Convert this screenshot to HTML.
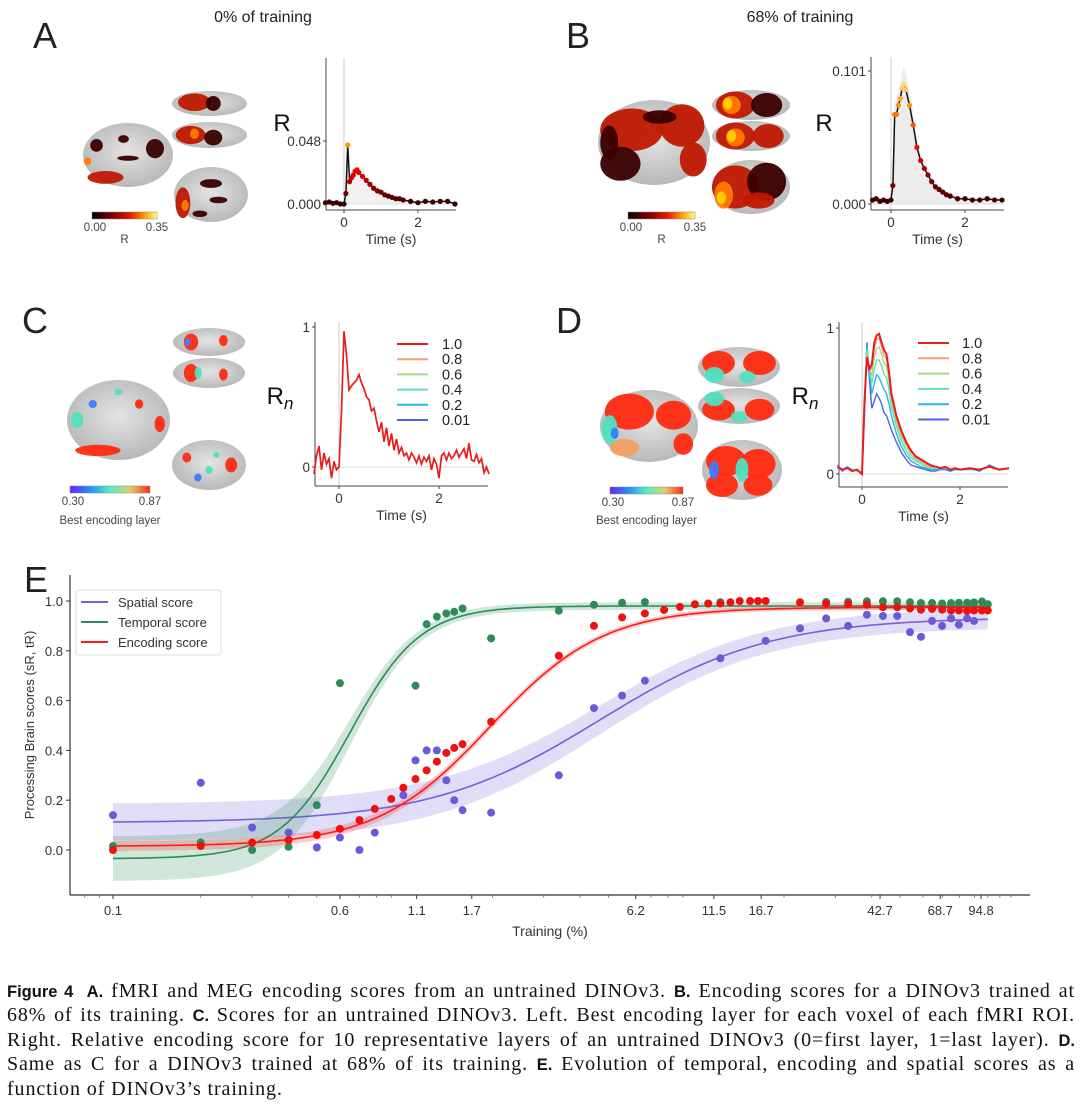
<!DOCTYPE html>
<html><head><meta charset="utf-8">
<style>
html,body{margin:0;padding:0;background:#fff;}
body{width:1080px;height:1106px;position:relative;overflow:hidden;font-family:"Liberation Sans",sans-serif;}
#fig{position:absolute;left:0;top:0;}
#caption{position:absolute;left:7px;top:980px;width:1068px;font-family:"Liberation Serif",serif;font-size:20px;letter-spacing:0.9px;line-height:23.4px;color:#111;}
#caption .ln{text-align:justify;text-align-last:justify;white-space:nowrap;}
#caption .last{text-align:left;text-align-last:left;}
#caption b{font-family:"Liberation Sans",sans-serif;font-size:16.5px;letter-spacing:0;}
</style></head>
<body>
<svg id="fig" width="1080" height="970" xmlns="http://www.w3.org/2000/svg"></svg>
<div id="caption">
<div class="ln"><b>Figure 4&nbsp;&nbsp;A.</b> fMRI and MEG encoding scores from an untrained DINOv3. <b>B.</b> Encoding scores for a DINOv3 trained at</div>
<div class="ln">68% of its training. <b>C.</b> Scores for an untrained DINOv3. Left. Best encoding layer for each voxel of each fMRI ROI.</div>
<div class="ln">Right. Relative encoding score for 10 representative layers of an untrained DINOv3 (0=first layer, 1=last layer). <b>D.</b></div>
<div class="ln">Same as C for a DINOv3 trained at 68% of its training. <b>E.</b> Evolution of temporal, encoding and spatial scores as a</div>
<div class="ln last">function of DINOv3’s training.</div>
</div>
<script>
// ---------- Panel A/B time series data ----------
const tAB = [-0.5,-0.4,-0.3,-0.2,-0.1,0,0.05,0.1,0.15,0.2,0.25,0.3,0.35,0.4,0.5,0.6,0.7,0.8,0.9,1.0,1.1,1.2,1.3,1.4,1.5,1.6,1.8,2.0,2.2,2.4,2.6,2.8,3.0];
const valsA = [0.001,0.0015,0.0005,0.001,0.0,0.0,0.008,0.045,0.017,0.02,0.022,0.025,0.026,0.024,0.021,0.018,0.015,0.012,0.010,0.009,0.007,0.006,0.005,0.004,0.004,0.003,0.002,0.001,0.002,0.0015,0.002,0.002,0.0];
const valsB = [0.003,0.004,0.002,0.003,0.002,0.003,0.014,0.068,0.068,0.075,0.08,0.088,0.091,0.087,0.075,0.06,0.043,0.033,0.027,0.022,0.017,0.013,0.011,0.009,0.007,0.006,0.004,0.004,0.003,0.003,0.004,0.003,0.003];
const ticksA = [0.000,0.048];
const ticksB = [0.000,0.101];
// ---------- Panel C data (step 0.05 s from -0.5) ----------
const valsC = [-0.05,0.08,0.15,-0.02,0.1,0.02,0.06,-0.08,0.04,-0.02,
0.0,0.4,0.97,0.8,0.55,0.58,0.6,0.62,0.66,0.6,0.56,0.5,0.48,0.4,0.42,0.33,0.25,0.32,0.18,0.28,0.15,0.24,0.12,0.2,0.1,0.14,0.08,0.1,0.05,0.1,0.07,0.03,0.08,0.02,0.07,0.04,0.08,-0.02,0.06,0.02,-0.08,0.08,0.1,0.05,0.1,0.06,0.08,0.12,0.07,0.1,0.13,0.06,0.17,0.05,0.04,0.09,0.03,0.06,-0.04,0.0,-0.05];
// ---------- Panel D data ----------
const tD = [-0.5,-0.4,-0.3,-0.2,-0.1,0,0.05,0.1,0.15,0.2,0.25,0.3,0.35,0.4,0.45,0.5,0.55,0.6,0.7,0.8,0.9,1.0,1.1,1.2,1.3,1.4,1.5,1.6,1.7,1.8,1.9,2.0,2.2,2.4,2.6,2.8,3.0];
const layerLabels = ["1.0","0.8","0.6","0.4","0.2","0.01"];
const d10 = [0.05,0.03,0.04,0.02,0.03,0.0,0.5,0.8,0.72,0.75,0.9,0.95,0.96,0.9,0.85,0.82,0.7,0.55,0.4,0.3,0.22,0.16,0.12,0.1,0.08,0.06,0.05,0.04,0.05,0.03,0.04,0.03,0.04,0.03,0.05,0.03,0.04];
const d08 = [0.05,0.03,0.04,0.02,0.03,0.0,0.49,0.81,0.72,0.72,0.86,0.92,0.93,0.87,0.81,0.79,0.68,0.53,0.38,0.28,0.21,0.15,0.11,0.09,0.07,0.05,0.05,0.04,0.05,0.03,0.04,0.03,0.04,0.03,0.05,0.03,0.04];
const d06 = [0.05,0.03,0.04,0.02,0.03,0.0,0.48,0.83,0.72,0.68,0.8,0.86,0.87,0.82,0.76,0.74,0.64,0.5,0.36,0.26,0.19,0.13,0.1,0.08,0.06,0.05,0.04,0.04,0.05,0.03,0.04,0.03,0.04,0.03,0.05,0.03,0.04];
const d04 = [0.05,0.03,0.04,0.03,0.02,0.0,0.47,0.85,0.72,0.62,0.72,0.78,0.78,0.74,0.68,0.66,0.58,0.46,0.33,0.23,0.16,0.11,0.09,0.07,0.05,0.04,0.04,0.04,0.04,0.03,0.04,0.03,0.04,0.03,0.05,0.03,0.04];
const d02 = [0.04,0.03,0.05,0.02,0.03,0.0,0.45,0.88,0.7,0.55,0.62,0.68,0.66,0.62,0.58,0.55,0.48,0.4,0.28,0.19,0.13,0.09,0.07,0.05,0.04,0.03,0.03,0.03,0.04,0.03,0.03,0.03,0.03,0.03,0.05,0.03,0.04];
const d001 = [0.06,0.02,0.05,0.03,0.02,0.01,0.4,0.9,0.65,0.45,0.5,0.55,0.52,0.48,0.42,0.4,0.35,0.3,0.22,0.15,0.1,0.06,0.05,0.04,0.03,0.02,0.02,0.03,0.03,0.02,0.03,0.03,0.04,0.02,0.06,0.03,0.04];
// ---------- Panel E data ----------
const trainingPct = [0.1,0.2,0.3,0.4,0.5,0.6,0.7,0.79,0.9,0.99,1.09,1.19,1.29,1.39,1.48,1.58,1.98,3.38,4.46,5.57,6.67,7.76,8.79,9.9,11.0,12.1,13.1,14.1,15.3,16.3,17.3,22.7,27.9,33.2,38.5,43.7,48.9,54.1,59.0,64.4,69.7,74.8,79.6,84.9,89.7,95.5,100];
const spatialScore = [0.14,0.27,0.09,0.07,0.01,0.05,0.0,0.07,null,0.22,0.36,0.40,0.40,0.28,0.20,0.16,0.15,0.30,0.57,0.62,0.68,null,null,null,null,0.77,null,null,null,null,0.84,0.89,0.93,0.90,0.945,0.94,0.94,0.875,0.856,0.92,0.90,0.93,0.905,0.93,0.92,null,null];
const temporalScore = [0.016,0.03,0.0,0.013,0.18,0.67,null,null,null,null,0.66,0.907,0.937,0.95,0.957,0.97,0.85,0.961,0.985,0.993,0.996,null,null,null,null,0.995,null,null,null,null,null,null,0.996,0.997,0.999,0.999,0.999,0.995,0.992,0.992,0.99,0.992,0.993,0.993,0.994,0.998,0.987];
const encodingScore = [0.0,0.016,0.03,0.04,0.06,0.085,0.12,0.165,0.205,0.25,0.285,0.32,0.355,0.39,0.41,0.425,0.515,0.78,0.90,0.934,0.95,0.964,0.976,0.987,0.99,0.99,0.995,1.0,1.0,1.0,1.0,0.995,0.99,0.988,0.985,0.975,0.975,0.97,0.965,0.968,0.965,0.962,0.962,0.96,0.962,0.962,0.962];
const yTicksE = [0.0,0.2,0.4,0.6,0.8,1.0];
const xTickLabelsE = ["0.1","0.6","1.1","1.7","6.2","11.5","16.7","42.7","68.7","94.8"];
// logistic fit parameters (low, high, midpoint log10(%), scale in decades)
const fitSpatial = [0.11,0.935,0.67,0.29];
const fitTemporal = [-0.035,0.98,-0.187,0.12];
const fitEncoding = [0.015,0.975,0.293,0.195];

const NS='http://www.w3.org/2000/svg';
const svg=document.getElementById('fig');
function el(tag,attrs,parent){const e=document.createElementNS(NS,tag);for(const k in attrs)e.setAttribute(k,attrs[k]);(parent||svg).appendChild(e);return e;}
function txt(x,y,s,size,anchor,parent,extra){const e=el('text',Object.assign({x:x,y:y,'font-size':size,'text-anchor':anchor||'start','font-family':'Liberation Sans, sans-serif',fill:'#222'},extra||{}),parent);e.textContent=s;return e;}
function hot(f){f=Math.max(0,Math.min(1,f));let r,g,b;
 if(f<0.4){r=50+f/0.4*180;g=0;b=0;} else if(f<0.75){r=230+(f-0.4)/0.35*25;g=(f-0.4)/0.35*150;b=0;} else {r=255;g=150+(f-0.75)/0.25*105;b=(f-0.75)/0.25*200;}
 return 'rgb('+Math.round(r)+','+Math.round(g)+','+Math.round(b)+')';}

// ---------- letters and titles ----------
let t;
t=txt(33,48,'A',36,'start');
t=txt(566,48,'B',36,'start');
t=txt(22,333,'C',36,'start');
t=txt(556,333,'D',36,'start');
t=txt(24,592,'E',36,'start');
t=txt(263,22,'0% of training',16,'middle');
t=txt(800,22,'68% of training',16,'middle');

// ---------- gradients ----------
const defs=el('defs',{});
const rg=el('radialGradient',{id:'brainG',cx:'50%',cy:'45%',r:'60%'},defs);
el('stop',{offset:'0%','stop-color':'#e4e4e4'},rg);el('stop',{offset:'100%','stop-color':'#b4b4b4'},rg);
const lgh=el('linearGradient',{id:'hotG',x1:'0',x2:'1',y1:'0',y2:'0'},defs);
[['0%','#000'],['35%','#8b0000'],['60%','#e62000'],['80%','#ff9900'],['100%','#ffff80']].forEach(s=>el('stop',{offset:s[0],'stop-color':s[1]},lgh));
const lgr=el('linearGradient',{id:'rainG',x1:'0',x2:'1',y1:'0',y2:'0'},defs);
[['0%','#6a20ff'],['25%','#2a8cff'],['50%','#50f0c0'],['75%','#e0d070'],['100%','#ff2a10']].forEach(s=>el('stop',{offset:s[0],'stop-color':s[1]},lgr));

// ---------- brains ----------
function brain(name,x,y,w,h,blobs){
 const g=el('g',{});
 
 
 el('ellipse',{cx:x+w/2,cy:y+h/2,rx:w/2,ry:h/2,fill:'url(#brainG)'},g);
 blobs.forEach(b=>el('ellipse',{cx:x+b[0]*w,cy:y+b[1]*h,rx:b[2]*w,ry:b[3]*h,fill:b[4],opacity:0.95},g));
 return g;}
const dk='#3a0000', rd='#c01800', or='#ff7a00', ye='#ffd000';
// Panel A
brain('brain-a-medial',83,123,90,64,[[0.15,0.35,0.07,0.1,dk],[0.45,0.25,0.06,0.06,dk],[0.8,0.4,0.1,0.15,dk],[0.25,0.85,0.2,0.1,rd],[0.05,0.6,0.04,0.06,or],[0.5,0.55,0.12,0.04,dk]]);
brain('brain-a-top1',172,91,75,25,[[0.3,0.45,0.22,0.35,rd],[0.55,0.5,0.1,0.3,dk]]);
brain('brain-a-top2',172,122,75,26,[[0.25,0.5,0.2,0.35,rd],[0.3,0.45,0.06,0.2,or],[0.55,0.6,0.12,0.3,dk]]);
brain('brain-a-lateral',174,167,74,55,[[0.12,0.65,0.1,0.28,rd],[0.15,0.7,0.05,0.1,or],[0.5,0.3,0.15,0.08,dk],[0.6,0.6,0.12,0.06,dk],[0.35,0.85,0.1,0.06,dk]]);
// Panel B
brain('brain-b-medial',598,100,112,85,[[0.3,0.35,0.28,0.25,rd],[0.75,0.3,0.2,0.25,rd],[0.2,0.75,0.18,0.2,dk],[0.85,0.7,0.12,0.2,rd],[0.1,0.5,0.08,0.2,dk],[0.55,0.2,0.15,0.08,dk]]);
brain('brain-b-top1',712,90,78,30,[[0.3,0.5,0.25,0.45,rd],[0.25,0.5,0.12,0.3,or],[0.7,0.5,0.2,0.4,dk],[0.2,0.45,0.06,0.2,ye]]);
brain('brain-b-top2',712,121,78,30,[[0.3,0.5,0.25,0.45,rd],[0.3,0.55,0.12,0.3,or],[0.72,0.5,0.2,0.4,rd],[0.25,0.5,0.06,0.2,ye]]);
brain('brain-b-lateral',712,160,78,54,[[0.3,0.5,0.3,0.4,rd],[0.7,0.4,0.25,0.35,dk],[0.15,0.65,0.12,0.25,or],[0.12,0.7,0.06,0.12,ye],[0.6,0.75,0.2,0.15,rd]]);
// Panel C
const R='#ff2a10',Bl='#3c7cff',Cy='#50e0c0',Or='#f0a060';
brain('brain-c-medial',67,380,103,80,[[0.1,0.5,0.06,0.1,Cy],[0.3,0.88,0.22,0.07,R],[0.7,0.3,0.04,0.06,R],[0.9,0.55,0.05,0.1,R],[0.25,0.3,0.04,0.05,Bl],[0.5,0.15,0.04,0.04,Cy]]);
brain('brain-c-top1',173,328,72,28,[[0.25,0.5,0.1,0.3,R],[0.2,0.5,0.04,0.15,Bl],[0.7,0.45,0.06,0.2,R]]);
brain('brain-c-top2',173,358,72,30,[[0.25,0.5,0.1,0.3,R],[0.35,0.5,0.05,0.2,Cy],[0.7,0.55,0.06,0.2,R]]);
brain('brain-c-lateral',172,440,74,50,[[0.2,0.35,0.06,0.1,R],[0.8,0.5,0.08,0.15,R],[0.5,0.6,0.05,0.08,Cy],[0.35,0.75,0.05,0.08,Bl],[0.6,0.3,0.04,0.06,Cy]]);
// Panel D
brain('brain-d-medial',600,390,98,72,[[0.3,0.3,0.25,0.25,R],[0.75,0.35,0.18,0.2,R],[0.1,0.55,0.08,0.2,Cy],[0.25,0.8,0.15,0.12,Or],[0.85,0.75,0.1,0.15,R],[0.15,0.6,0.04,0.08,Bl]]);
brain('brain-d-top1',698,347,82,40,[[0.25,0.4,0.2,0.3,R],[0.75,0.4,0.2,0.3,R],[0.2,0.7,0.12,0.2,Cy],[0.6,0.75,0.1,0.15,Cy]]);
brain('brain-d-top2',698,388,82,36,[[0.25,0.6,0.2,0.3,R],[0.75,0.6,0.18,0.3,R],[0.2,0.3,0.12,0.2,Cy],[0.5,0.8,0.1,0.15,Cy]]);
brain('brain-d-lateral',702,440,80,60,[[0.3,0.35,0.25,0.25,R],[0.7,0.4,0.22,0.25,R],[0.25,0.75,0.2,0.2,R],[0.7,0.75,0.18,0.18,R],[0.5,0.5,0.08,0.2,Cy],[0.15,0.5,0.06,0.15,Bl]]);

// ---------- colorbars ----------
function cbar(name,x,y,w,grad,l0,l1,lab,ly){
 const g=el('g',{});
 
 
 el('rect',{x:x,y:y,width:w,height:7,fill:'url(#'+grad+')',stroke:'#888','stroke-width':0.5},g);
 txt(x+3,y+19,l0,11.5,'middle',g,{fill:'#444'});
 txt(x+w,y+19,l1,11.5,'middle',g,{fill:'#444'});
 txt(x+w/2,ly,lab,11.5,'middle',g,{fill:'#444'});}
cbar('colorbar-a',92,212,65,'hotG','0.00','0.35','R',243);
cbar('colorbar-b',628,212,67,'hotG','0.00','0.35','R',243);
cbar('colorbar-c',70,486,80,'rainG','0.30','0.87','Best encoding layer',524);
cbar('colorbar-d',610,487,73,'rainG','0.30','0.87','Best encoding layer',524);

// ---------- time series plots ----------
function tsAxes(name,ax,top,bot,right,x0,pxs,y0,pys,yt,ytLab,ylab,ylabX,ylabY,isRn){
 const g=el('g',{});
 
 
 const X=t=>x0+t*pxs, Y=v=>y0-v*pys;
 el('line',{x1:X(0),x2:X(0),y1:top,y2:bot,stroke:'#ccc','stroke-width':1},g);
 el('line',{x1:ax,x2:right,y1:Y(0),y2:Y(0),stroke:'#ddd','stroke-width':1},g);
 el('line',{x1:ax,x2:ax,y1:top,y2:bot,stroke:'#444','stroke-width':1},g);
 el('line',{x1:ax,x2:right,y1:bot,y2:bot,stroke:'#444','stroke-width':1},g);
 yt.forEach((v,i)=>{el('line',{x1:ax-3,x2:ax,y1:Y(v),y2:Y(v),stroke:'#444'},g);txt(ax-5,Y(v)+5,ytLab[i],13.5,'end',g,{fill:'#333'});});
 [0,2].forEach(v=>{el('line',{x1:X(v),x2:X(v),y1:bot,y2:bot+3,stroke:'#444'},g);txt(X(v),bot+17,String(v),13.5,'middle',g,{fill:'#333'});});
 txt((ax+right)/2,bot+34,'Time (s)',14,'middle',g,{fill:'#333'});
 const yl=txt(ylabX,ylabY,ylab,24,'middle',g,{fill:'#111'});
 if(isRn){const ts=document.createElementNS(NS,'tspan');ts.setAttribute('font-style','italic');ts.setAttribute('font-size','17');ts.setAttribute('dy','5');ts.textContent='n';yl.appendChild(ts);}
 return {g,X,Y};}
function pathD(ts,vs,X,Y){return vs.map((v,i)=>(i?'L':'M')+X(ts[i]).toFixed(1)+','+Y(v).toFixed(1)).join('');}

// Panel A
let pA=tsAxes('time-plot-a',326,58,210,456,344,37,204,1312,ticksA,['0.000','0.048'],'R',282,131,false);
el('path',{d:pathD(tAB,valsA.map(v=>v*1.15+0.002),pA.X,pA.Y)+'L'+pA.X(3)+','+pA.Y(0)+'L'+pA.X(-0.5)+','+pA.Y(0)+'Z',fill:'#e8e8e8',opacity:0.6},pA.g);
let ln=el('path',{d:pathD(tAB,valsA,pA.X,pA.Y),fill:'none',stroke:'#111','stroke-width':1.5},pA.g);


tAB.forEach((tt,i)=>{const c=el('circle',{cx:pA.X(tt),cy:pA.Y(valsA[i]),r:2.6,fill:hot(valsA[i]/0.06)},pA.g);
 
 });
// Panel B
let pB=tsAxes('time-plot-b',871,57,210,1004,891,37,204,1317,ticksB,['0.000','0.101'],'R',824,131,false);
el('path',{d:pathD(tAB,valsB.map(v=>v*1.12+0.002),pB.X,pB.Y)+'L'+pB.X(3)+','+pB.Y(0)+'L'+pB.X(-0.5)+','+pB.Y(0)+'Z',fill:'#e4e4e4',opacity:0.7},pB.g);
ln=el('path',{d:pathD(tAB,valsB,pB.X,pB.Y),fill:'none',stroke:'#111','stroke-width':1.5},pB.g);


tAB.forEach((tt,i)=>{const c=el('circle',{cx:pB.X(tt),cy:pB.Y(valsB[i]),r:2.6,fill:hot(valsB[i]/0.1)},pB.g);
 
 });
// Panel C
const colors=['#e81c1c','#f0a070','#a8d88a','#60e0b0','#20b8e8','#5060e8'];
let pC=tsAxes('time-plot-c',315,322,486,488,339,50,467,140,[0,1],['0','1'],'R',280,404,true);
const tC=valsC.map((v,i)=>-0.5+i*0.05);
ln=el('path',{d:pathD(tC,valsC,pC.X,pC.Y),fill:'none',stroke:colors[0],'stroke-width':1.7},pC.g);


function legend(name,x1,tx,y0,step){const g=el('g',{});
 
 
 layerLabels.forEach((l,i)=>{el('line',{x1:x1,x2:x1+31,y1:y0+i*step,y2:y0+i*step,stroke:colors[i],'stroke-width':2},g);txt(tx,y0+i*step+5,l,14.5,'start',g,{fill:'#222'});});}
legend('legend-c',397,442,344,15.2);
// Panel D
let pD=tsAxes('time-plot-d',839,322,487,1008,862,49,474,146,[0,1],['0','1'],'R',805,404,true);
const dSeries=[d10,d08,d06,d04,d02,d001];
for(let k=dSeries.length-1;k>=0;k--){const p=el('path',{d:pathD(tD,dSeries[k],pD.X,pD.Y),fill:'none',stroke:colors[k],'stroke-width':k==0?2:1.4},pD.g);
 
 }
legend('legend-d',918,962,343,15.3);

// ---------- Panel E ----------
const gE=el('g',{});


const EX=t=>113+(Math.log10(t)+1)*291.6, EY=v=>850-v*249;
const axL=70, axR=1030, axB=895, axT=575;
el('line',{x1:axL,x2:axL,y1:axT,y2:axB,stroke:'#333','stroke-width':1.2},gE);
el('line',{x1:axL,x2:axR,y1:axB,y2:axB,stroke:'#333','stroke-width':1.2},gE);
yTicksE.forEach(v=>{el('line',{x1:axL-4,x2:axL,y1:EY(v),y2:EY(v),stroke:'#333'},gE);txt(axL-7,EY(v)+5,v.toFixed(1),13,'end',gE,{fill:'#333'});});
[0.08,0.09,0.2,0.3,0.4,0.5,0.7,0.8,0.9,2,3,4,5,7,8,9,20,30,40,50,60,70,80,90,100,110,120].forEach(m=>{const x=EX(m);if(x>axL&&x<axR)el('line',{x1:x,x2:x,y1:axB,y2:axB+2.5,stroke:'#555','stroke-width':0.8},gE);});
xTickLabelsE.forEach(l=>{const x=EX(parseFloat(l));el('line',{x1:x,x2:x,y1:axB,y2:axB+4,stroke:'#333'},gE);txt(x,axB+20,l,13,'middle',gE,{fill:'#333'});});
t=txt(550,936,'Training (%)',14,'middle',gE,{fill:'#333'});


t=txt(0,0,'Processing Brain scores (sR, tR)',13,'middle',gE,{fill:'#333',transform:'translate(34,725) rotate(-90)'});


function logistic(p,lt){return p[0]+(p[1]-p[0])/(1+Math.exp(-(lt-p[2])/p[3]));}
function fitCurve(name,p,color,w0,w1){
 const g=el('g',{},gE);
 
 
 const up=[],dn=[],mid=[];
 for(let lt=-1;lt<=2.0001;lt+=0.02){const v=logistic(p,lt);const f=(v-p[0])/(p[1]-p[0]);const w=w0*(1-f)+w1*f;const x=113+(lt+1)*291.6;
  mid.push([x,EY(v)]);up.push([x,EY(v+w)]);dn.push([x,EY(v-w)]);}
 const band=up.map((q,i)=>(i?'L':'M')+q[0].toFixed(1)+','+q[1].toFixed(1)).join('')+dn.reverse().map(q=>'L'+q[0].toFixed(1)+','+q[1].toFixed(1)).join('')+'Z';
 el('path',{d:band,fill:color,opacity:0.22},g);
 el('path',{d:mid.map((q,i)=>(i?'L':'M')+q[0].toFixed(1)+','+q[1].toFixed(1)).join(''),fill:'none',stroke:color,'stroke-width':1.6},g);}
fitCurve('fit-spatial',fitSpatial,'#7462d8',0.075,0.04);
fitCurve('fit-temporal',fitTemporal,'#2e8b57',0.09,0.015);
fitCurve('fit-encoding',fitEncoding,'#ff1a1a',0.02,0.01);
function scatter(name,vals,color){
 vals.forEach((v,i)=>{if(v===null)return;
  const c=el('circle',{cx:EX(trainingPct[i]),cy:EY(v),r:4,fill:color},gE);
  
  });}
scatter('point-spatial',spatialScore,'#6a5ad8');
scatter('point-temporal',temporalScore,'#2e8b57');
scatter('point-encoding',encodingScore,'#f01010');
const lg=el('g',{},gE);


el('rect',{x:76,y:590,width:145,height:65,rx:3,fill:'#fff',stroke:'#ddd'},lg);
[['Spatial score','#7462d8'],['Temporal score','#2e8b57'],['Encoding score','#ff1a1a']].forEach((e,i)=>{
 el('line',{x1:81,x2:108,y1:602+i*20,y2:602+i*20,stroke:e[1],'stroke-width':2},lg);
 txt(118,607+i*20,e[0],13,'start',lg,{fill:'#333'});});
</script>
</body></html>
